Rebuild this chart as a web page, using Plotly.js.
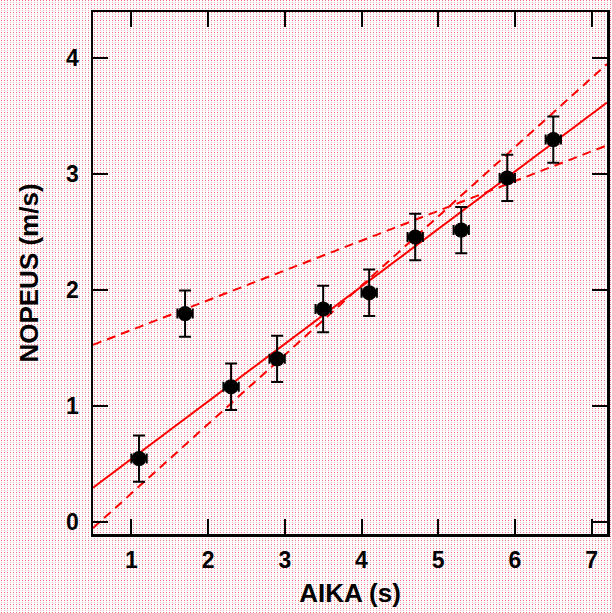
<!DOCTYPE html>
<html>
<head>
<meta charset="utf-8">
<script src="https://cdn.plot.ly/plotly-3.0.1.min.js"></script>
<style>
html, body { margin: 0; padding: 0; }
body {
  width: 612px; height: 613px; overflow: hidden;
  background-color: #ffffff;
  background-image: url("data:image/svg+xml;utf8,<svg xmlns='http://www.w3.org/2000/svg' width='3' height='4'><rect x='1' y='0' width='1' height='1' fill='%23f26a78'/><rect x='1' y='2' width='1' height='1' fill='%23f9b5bd'/></svg>");
  background-repeat: repeat;
}
#chart { width: 612px; height: 613px; }
</style>
</head>
<body>
<div id="chart"></div>
<script>
// Measurements
var aika   = [1.1, 1.7, 2.3, 2.9, 3.5, 4.1, 4.7, 5.3, 5.9, 6.5];
var nopeus = [0.55, 1.80, 1.17, 1.41, 1.84, 1.98, 2.46, 2.52, 2.97, 3.30];
var aikaErr   = [0.1, 0.1, 0.1, 0.1, 0.1, 0.1, 0.1, 0.1, 0.1, 0.1];
var nopeusErr = [0.2, 0.2, 0.2, 0.2, 0.2, 0.2, 0.2, 0.2, 0.2, 0.2];

// Fitted lines: [slope, intercept]
var fitLine      = [0.4955, 0.052];
var shallowLine  = [0.2567, 1.402];
var steepLine    = [0.597, -0.347];

var xTicks = [1, 2, 3, 4, 5, 6, 7];
var yTicks = [0, 1, 2, 3, 4];
var xRange = [0.5, 7.2];
var yRange = [-0.1, 4.4];

function lineTrace(p, dash) {
  var xs = [xRange[0], xRange[1]];
  return {
    x: xs, y: xs.map(function (v) { return p[0] * v + p[1]; }),
    mode: 'lines', type: 'scatter', hoverinfo: 'skip',
    line: { color: '#ff0000', width: 2, dash: dash }
  };
}

var traces = [
  lineTrace(fitLine, 'solid'),
  lineTrace(shallowLine, '9px,6px'),
  lineTrace(steepLine, '9px,6px'),
  {
    x: aika, y: nopeus, type: 'scatter', mode: 'markers',
    marker: { color: '#000000', size: 15 },
    error_y: { type: 'data', array: nopeusErr, visible: true, color: '#000000', thickness: 2, width: 6 },
    error_x: { type: 'data', array: aikaErr, visible: true, color: '#000000', thickness: 2, width: 5 }
  }
];

var tickFont = { family: 'Liberation Sans, Arial, sans-serif', size: 23, color: '#000000', weight: 'bold' };
var titleFont = { family: 'Liberation Sans, Arial, sans-serif', size: 26, color: '#000000', weight: 'bold' };

var layout = {
  width: 612, height: 613,
  margin: { l: 93, r: 5, t: 12, b: 79 },
  paper_bgcolor: 'rgba(0,0,0,0)',
  plot_bgcolor: 'rgba(0,0,0,0)',
  showlegend: false,
  xaxis: {
    range: xRange, tickmode: 'array', tickvals: xTicks, ticktext: xTicks.map(String),
    ticks: 'inside', ticklen: 15, tickwidth: 2, tickcolor: '#000',
    showline: true, linewidth: 2.5, linecolor: '#000', mirror: 'ticks',
    showgrid: false, zeroline: false,
    tickfont: tickFont, ticklabelstandoff: 4,
    title: { text: 'AIKA (s)', font: titleFont, standoff: 12 }
  },
  yaxis: {
    range: yRange, tickmode: 'array', tickvals: yTicks, ticktext: yTicks.map(String),
    ticks: 'inside', ticklen: 15, tickwidth: 2, tickcolor: '#000',
    showline: true, linewidth: 2.5, linecolor: '#000', mirror: 'ticks',
    showgrid: false, zeroline: false,
    tickfont: tickFont, ticklabelstandoff: 7,
    title: { text: 'NOPEUS (m/s)', font: titleFont, standoff: 20 }
  }
};

Plotly.newPlot('chart', traces, layout, { displayModeBar: false, staticPlot: true });
</script>
</body>
</html>
